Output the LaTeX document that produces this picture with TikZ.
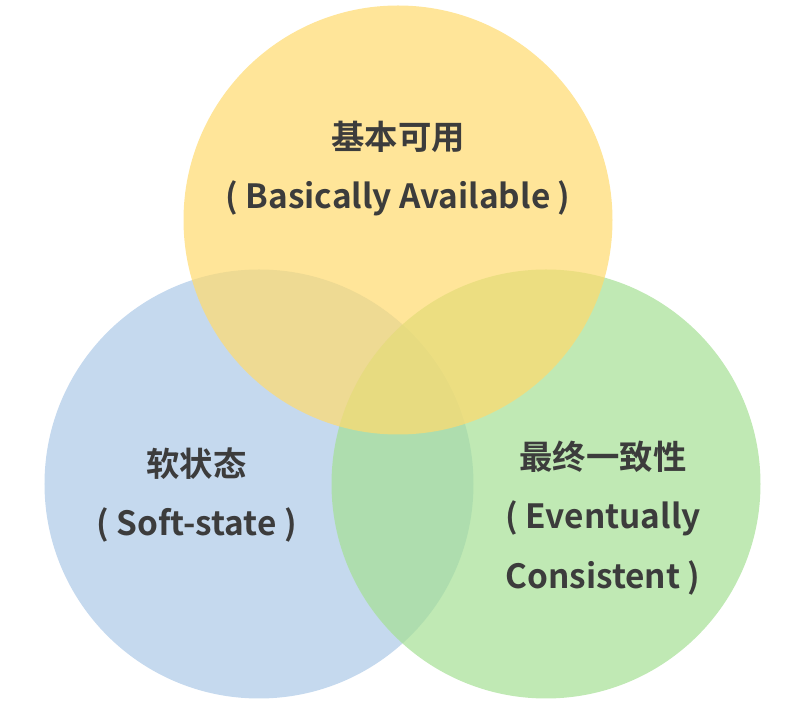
\documentclass[tikz,border=0pt]{standalone}
\usepackage{fontspec}
\newfontfamily\cjkbold{Noto Sans CJK SC Bold}
\usetikzlibrary{positioning}
\definecolor{baseyellow}{HTML}{FFDA6D}
\definecolor{baseblue}{HTML}{ACC9E7}
\definecolor{basegreen}{HTML}{A5E094}
\definecolor{labelgray}{HTML}{3C3C3C}
\tikzset{
  bubble/.style={
    circle,
    draw=none,
    fill opacity=0.7,
    minimum size=8.58cm,
    inner sep=0pt
  },
  label/.style={
    align=center,
    text=labelgray,
    font=\cjkbold\fontsize{19}{34}\selectfont
  }
}

\begin{document}
\begin{tikzpicture}
  \useasboundingbox (0,0) rectangle (15.78,14.2);

  \node[bubble, fill=baseblue] (soft) at (5.18,4.52) {};
  \node[bubble, fill=basegreen] (eventual) at (10.92,4.52) {};
  \node[bubble, fill=baseyellow] (basic) at (7.96,9.8) {};

  \node[label] (basictext) at (7.96,10.83)
        {基本可用\\( Basically Available )};
  \node[label] (softtext) at (3.93,4.3)
        {软状态\\( Soft-state )};
  \node[label] (eventualtext) at (12.06,3.84)
        {最终一致性\\( Eventually\\Consistent )};
\end{tikzpicture}
\end{document}
